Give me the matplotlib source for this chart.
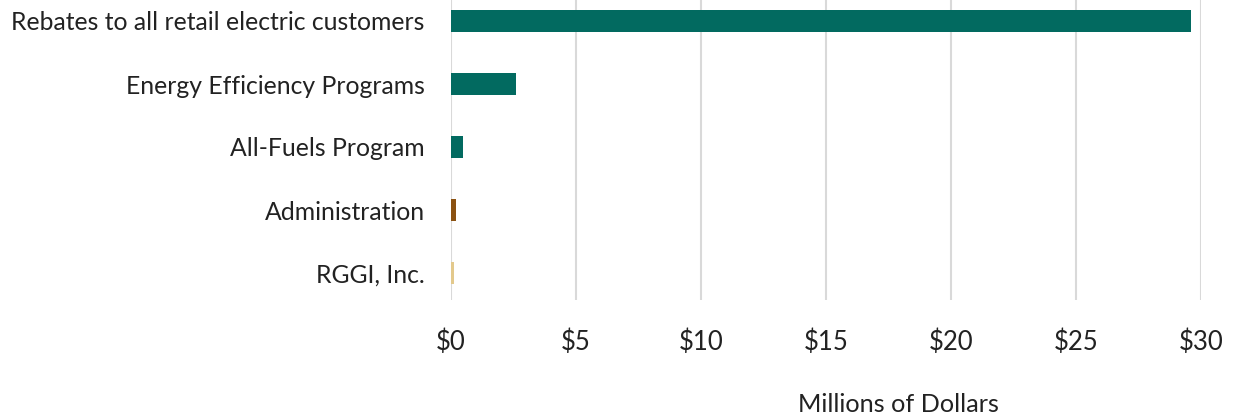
import matplotlib.pyplot as plt
from matplotlib.ticker import FuncFormatter

categories = [
    "Rebates to all retail electric customers",
    "Energy Efficiency Programs",
    "All-Fuels Program",
    "Administration",
    "RGGI, Inc.",
]
values = [29.6, 2.6, 0.47, 0.2, 0.12]
colors = ["#026A60", "#026A60", "#026A60", "#8B5212", "#E3C98C"]

plt.rcParams["font.family"] = ["Lato", "DejaVu Sans"]

fig = plt.figure(figsize=(12.35, 4.17), dpi=100)
ax = fig.add_axes([451 / 1235, 1 - 300 / 417, 750 / 1235, 300 / 417])

pos = list(range(len(categories)))
ax.barh(pos, values, height=0.35, color=colors, zorder=3)
ax.set_yticks(pos)
ax.set_yticklabels(categories, fontsize=17.8, color="#222222")
ax.set_ylim(4 + 27 / 63, -21 / 63)
ax.set_xlim(0, 30)
ax.set_xticks(range(0, 31, 5))
ax.xaxis.set_major_formatter(FuncFormatter(lambda v, p: f"${v:.0f}"))
ax.tick_params(axis="x", labelsize=18.5, length=0, pad=21, colors="#222222")
ax.tick_params(axis="y", length=0, pad=19)
ax.grid(axis="x", color="#D9D9D9", linewidth=1.5, zorder=0)
for s in ax.spines.values():
    s.set_visible(False)

fig.text(898 / 1235, 1 - 405 / 417, "Millions of Dollars", ha="center", va="center",
         fontsize=18.2, color="#222222")

fig.savefig("out.png", dpi=100)
